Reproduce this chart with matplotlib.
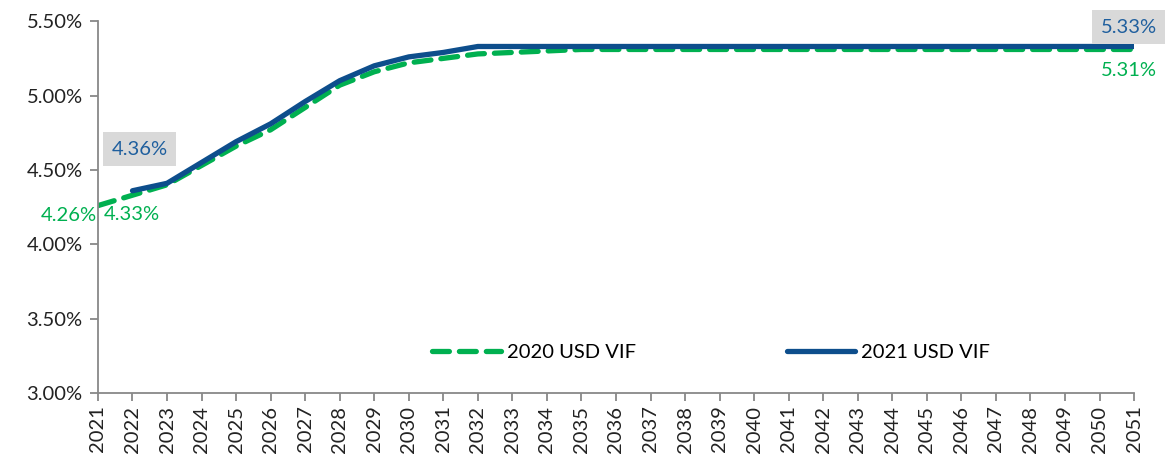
import matplotlib
matplotlib.use("Agg")
import matplotlib.pyplot as plt
from matplotlib.ticker import FuncFormatter

plt.rcParams['font.family'] = ['Lato', 'DejaVu Sans']

years = list(range(2021, 2052))
vif_2020 = [4.26, 4.33, 4.40, 4.53, 4.66, 4.77, 4.92, 5.07, 5.16, 5.22, 5.25, 5.28, 5.29, 5.30]
vif_2020 += [5.31] * (len(years) - len(vif_2020))
years_2021 = list(range(2022, 2052))
vif_2021 = [4.36, 4.41, 4.55, 4.69, 4.81, 4.96, 5.10, 5.20, 5.26, 5.29, 5.33]
vif_2021 += [5.33] * (len(years_2021) - len(vif_2021))
series_names = ["2020 USD VIF", "2021 USD VIF"]
yticks = [3.0, 3.5, 4.0, 4.5, 5.0, 5.5]

green = "#00B050"
blue = "#0D4E8C"
label_blue = "#1F5F9E"
fs = 14.5

fig = plt.figure(figsize=(11.66, 4.61), dpi=100)
ax = fig.add_axes([0.084, 0.1475, 0.8886, 0.8065])

ax.plot(years, vif_2020, color=green, lw=3.8, dashes=(3.2, 1.9), dash_capstyle='round',
        label=series_names[0], zorder=2)
ax.plot(years_2021, vif_2021, color=blue, lw=3.8, solid_capstyle='round',
        label=series_names[1], zorder=3)

ax.set_xlim(2021, 2051)
ax.set_ylim(3.0, 5.5)
ax.set_xticks(years)
ax.set_xticklabels([str(y) for y in years], rotation=90, fontsize=fs, color="#222222")
ax.set_yticks(yticks)
ax.yaxis.set_major_formatter(FuncFormatter(lambda v, p: f"{v:.2f}%"))
ax.tick_params(axis='y', labelsize=fs, colors="#222222", length=6, width=1.3, color="#888888", pad=5)
ax.tick_params(axis='x', length=6, width=1.3, color="#888888", pad=3)
for s in ['top', 'right']:
    ax.spines[s].set_visible(False)
for s in ['left', 'bottom']:
    ax.spines[s].set_color("#888888")
    ax.spines[s].set_linewidth(1.3)

box = dict(facecolor="#D9D9D9", edgecolor="none", pad=6)
ax.annotate(f"{vif_2021[0]:.2f}%", (years_2021[0], vif_2021[0]), xytext=(-15, 30),
            textcoords='offset points', color=label_blue, fontsize=fs, bbox=box, va='center')
ax.annotate(f"{vif_2021[-1]:.2f}%", (years_2021[-1], vif_2021[-1]), xytext=(-24, 14),
            textcoords='offset points', color=label_blue, fontsize=fs, bbox=box, va='center',
            annotation_clip=False)
ax.annotate(f"{vif_2020[0]:.2f}%", (years[0], vif_2020[0]), xytext=(-1, -7),
            textcoords='offset points', color=green, fontsize=fs, va='center', ha='right',
            annotation_clip=False)
ax.annotate(f"{vif_2020[1]:.2f}%", (years[1], vif_2020[1]), xytext=(-21, -14),
            textcoords='offset points', color=green, fontsize=fs, va='center')
ax.annotate(f"{vif_2020[-1]:.2f}%", (years[-1], vif_2020[-1]), xytext=(-24, -15),
            textcoords='offset points', color=green, fontsize=fs, va='center', annotation_clip=False)

ax.legend(loc='center', bbox_to_anchor=(0.592, 0.11), ncol=2, frameon=False, fontsize=fs,
          handlelength=3.4, columnspacing=7.5, handletextpad=0.3)

fig.savefig("out.png", dpi=100)
